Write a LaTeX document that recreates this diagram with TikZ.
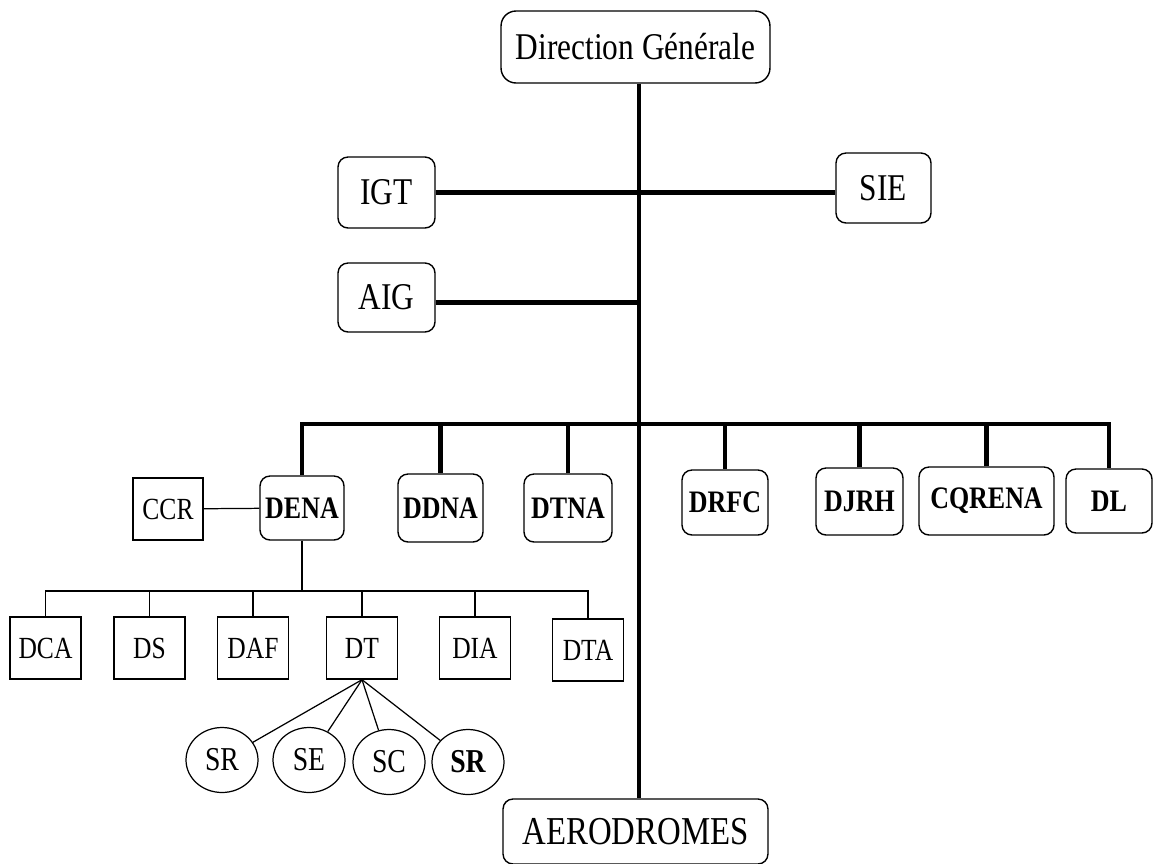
\documentclass[tikz,border=0pt]{standalone}
\usepackage{fontspec}
\setmainfont{Liberation Serif}[FakeStretch=0.83]
\usepackage{tikz}
\usetikzlibrary{shapes.geometric,positioning,calc}

\begin{document}
\begin{tikzpicture}[x=0.02cm, y=-0.02cm,
    grand/.style={draw, line width=0.8pt, rounded corners=0.2cm, inner sep=0pt, font=\fontsize{21.5}{24}\selectfont},
    dir/.style={draw, line width=0.8pt, rounded corners=0.2cm, inner sep=0pt, minimum height=1.32cm, font=\fontsize{17.8}{20}\selectfont\bfseries},
    carre/.style={draw, line width=0.8pt, inner sep=0pt, minimum width=1.42cm, minimum height=1.24cm, font=\fontsize{17.5}{19}\selectfont},
    rond/.style={draw, ellipse, line width=0.7pt, inner sep=0pt, minimum width=1.44cm, minimum height=1.3cm, font=\fontsize{19}{21}\selectfont},
    gros/.style={line width=2.3pt},
    fin/.style={line width=0.7pt}]
    \useasboundingbox (0,0) rectangle (1154,863);
    % tete et rattachements
    \node[grand, rounded corners=0.3cm, minimum width=5.38cm, minimum height=1.44cm] (dg) at (635.5,47) {Direction Générale};
    \node[grand, minimum width=1.94cm, minimum height=1.42cm] (igt) at (386.5,192.5) {IGT};
    \node[grand, minimum width=1.9cm, minimum height=1.4cm] (sie) at (883.5,188) {SIE};
    \node[grand, minimum width=1.94cm, minimum height=1.38cm] (aig) at (386.5,297.5) {AIG};
    \node[grand, font=\fontsize{22.5}{24}\selectfont, minimum width=5.3cm, minimum height=1.3cm] (aero) at (635.5,831.5) {AERODROMES};
    \coordinate (bus) at (639,424);
    % directions
    \node[carre, minimum width=1.4cm] (ccr) at (168,509) {CCR};
    \node[dir, minimum width=1.68cm, minimum height=1.28cm] (dena) at (302,508) {DENA};
    \node[dir, minimum width=1.7cm, minimum height=1.36cm] (ddna) at (440.5,508) {DDNA};
    \node[dir, minimum width=1.76cm, minimum height=1.36cm] (dtna) at (568,508) {DTNA};
    \node[dir, minimum width=1.72cm, minimum height=1.3cm] (drfc) at (725,502.5) {DRFC};
    \node[dir, minimum width=1.74cm, minimum height=1.34cm] (djrh) at (859.5,501.5) {DJRH};
    \node[dir, minimum width=2.7cm, minimum height=1.36cm] (cqrena) at (986.5,501) {CQRENA};
    \node[dir, minimum width=1.72cm, minimum height=1.28cm] (dl) at (1109,501) {DL};
    % departements de la DENA
    \coordinate (sous) at (302,591);
    \foreach \nom/\x in {dca/45.5, ds/149.5, daf/253, dt/362, dia/475} {
        \node[carre] (\nom) at (\x,648) {\MakeUppercase{\nom}};
    }
    \node[carre] (dta) at (588,650) {DTA};
    % services
    \node[rond] (sr1) at (222,760) {SR};
    \node[rond] (se) at (309,760) {SE};
    \node[rond] (sc) at (389,762) {SC};
    \node[rond, font=\fontsize{19}{21}\selectfont\bfseries] (sr2) at (468,762) {SR};
    % traits epais
    \draw[gros] (dg.south -| bus) -- (aero.north -| bus);
    \draw[gros] (igt) -- (igt -| sie.west);
    \draw[gros] ([yshift=-0.1cm]aig.east) -- ([yshift=-0.1cm]aig.east -| bus);
    \draw[gros] (dena.north) -- (dena.north |- bus) -- (dl.north |- bus) -- (dl.north);
    \foreach \nom in {ddna, dtna, drfc, djrh, cqrena} {
        \draw[gros] (\nom.north) -- (\nom.north |- bus);
    }
    % traits fins
    \draw[fin] (ccr) -- (dena);
    \draw[fin] (dena.south) -- (sous);
    \draw[fin] (dca.north) -- (dca.north |- sous) -- (dta.north |- sous) -- (dta.north);
    \foreach \nom in {ds, daf, dt, dia} {
        \draw[fin] (\nom.north) -- (\nom.north |- sous);
    }
    \foreach \nom in {sr1, se, sc, sr2} {
        \draw[fin] (dt.south) -- (\nom);
    }
\end{tikzpicture}
\end{document}
